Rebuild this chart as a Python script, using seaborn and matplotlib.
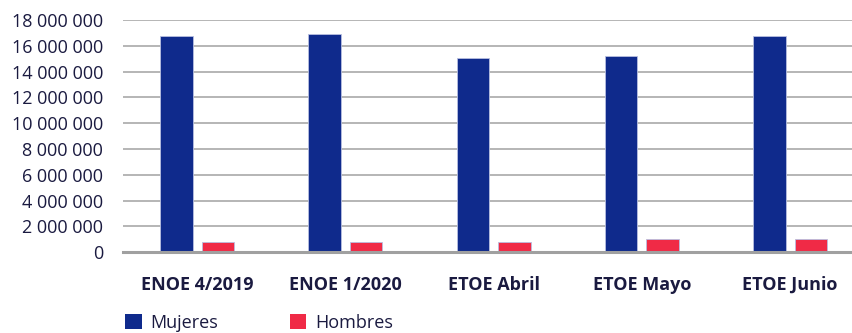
import matplotlib
matplotlib.use("Agg")
import matplotlib.pyplot as plt
import seaborn as sns
import pandas as pd
from matplotlib.ticker import FuncFormatter, MultipleLocator
from matplotlib.patches import Patch

categories = ["ENOE 4/2019", "ENOE 1/2020", "ETOE Abril", "ETOE Mayo", "ETOE Junio"]
mujeres = [16750000, 16900000, 15050000, 15200000, 16750000]
hombres = [750000, 750000, 750000, 1000000, 1000000]
series = ["Mujeres", "Hombres"]
colors = ["#0f2a8c", "#f02a46"]
text_color = "#1a1a40"

df = pd.DataFrame({
    "cat": categories * 2,
    "val": mujeres + hombres,
    "serie": [series[0]] * len(categories) + [series[1]] * len(categories),
})

sns.set_theme(style="white")
plt.rcParams["font.family"] = ["Open Sans", "DejaVu Sans"]

fig = plt.figure(figsize=(8.52, 3.33), dpi=100)
ax = fig.add_axes([0.1444, 0.243, 0.87, 0.697])

sns.barplot(data=df, x="cat", y="val", hue="serie", palette=colors,
            width=0.56, gap=0.22, ax=ax, legend=False,
            edgecolor="#b8bfe0", linewidth=0.6, saturation=1)

ax.set_ylim(0, 18000000)
ax.set_xlim(-0.5, 4.5)
ax.yaxis.set_major_locator(MultipleLocator(2000000))
ax.yaxis.set_major_formatter(FuncFormatter(lambda v, p: f"{int(v):,}".replace(",", " ")))
ax.grid(axis="y", color="#b0b0b0", linewidth=1.3)
ax.set_axisbelow(True)
for s in ["top", "right", "left"]:
    ax.spines[s].set_visible(False)
ax.spines["bottom"].set_color("#a0a0a0")
ax.spines["bottom"].set_linewidth(2.2)
ax.set_xlabel("")
ax.set_ylabel("")
ax.tick_params(axis="y", length=0, pad=14.5, labelsize=13, labelcolor=text_color)
ax.tick_params(axis="x", length=0, pad=17, labelsize=13, labelcolor=text_color)
for t in ax.get_xticklabels():
    t.set_fontweight("bold")

handles = [Patch(facecolor=c, edgecolor="none") for c in colors]
fig.legend(handles, series, loc="lower left", bbox_to_anchor=(0.128, -0.045),
           ncol=2, frameon=False, fontsize=13, handlelength=0.9, handleheight=0.9,
           handletextpad=0.5, columnspacing=3.95, labelcolor=text_color)

fig.savefig("out.png", dpi=100)
